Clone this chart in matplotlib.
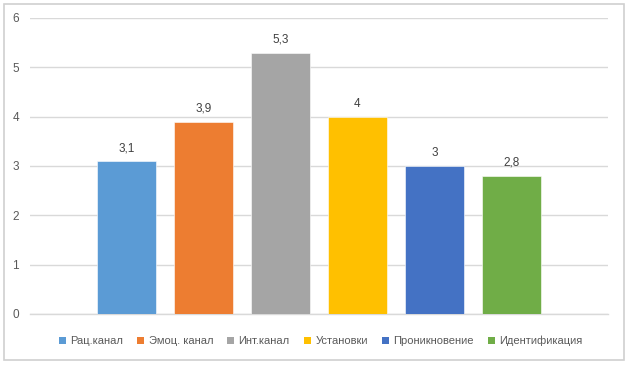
import matplotlib
matplotlib.use("Agg")
import matplotlib.pyplot as plt
from matplotlib.patches import Rectangle, Patch

categories = ["Рац.канал", "Эмоц. канал", "Инт.канал", "Установки", "Проникновение", "Идентификация"]
values = [3.1, 3.9, 5.3, 4, 3, 2.8]
value_labels = ["3,1", "3,9", "5,3", "4", "3", "2,8"]
y_ticks = [0, 1, 2, 3, 4, 5, 6]
colors = ["#5B9BD5", "#ED7D31", "#A5A5A5", "#FFC000", "#4472C4", "#70AD47"]

plt.rcParams['font.family'] = ['Liberation Sans', 'DejaVu Sans']

W, H = 629, 366
fig = plt.figure(figsize=(W / 100, H / 100), dpi=100)
fig.patch.set_facecolor("white")

# outer border
fig.patches.append(Rectangle((4 / W, 1 - 360 / H), 620 / W, 356 / H, transform=fig.transFigure,
                             fill=False, edgecolor="#d0d0d0", linewidth=1.2, zorder=0))

ax = fig.add_axes([30 / W, 1 - 314 / H, 578 / W, 296 / H])
x = list(range(len(values)))
bars = ax.bar(x, values, width=0.77, color=colors, edgecolor="white", linewidth=0.4, zorder=3)
for xi, v, lab in zip(x, values, value_labels):
    ax.annotate(lab, (xi, v), xytext=(0, 5), textcoords="offset points",
                ha="center", va="bottom", fontsize=8.5, color="#404040")

ax.set_xlim(-1.26, 6.26)
ax.set_ylim(0, 6)
ax.set_yticks(y_ticks)
ax.set_yticklabels([str(t) for t in y_ticks], fontsize=8.5, color="#595959")
ax.set_xticks([])
ax.tick_params(axis="y", length=0, pad=8)
ax.grid(axis="y", color="#d9d9d9", linewidth=1, zorder=0)
for s in ["top", "right", "left"]:
    ax.spines[s].set_visible(False)
ax.spines["bottom"].set_color("#d9d9d9")
ax.spines["bottom"].set_linewidth(1)

handles = [Patch(facecolor=c, edgecolor="none") for c in colors]
fig.legend(handles, categories, loc="center", bbox_to_anchor=(0.51, 1 - 341 / H), ncol=6,
           frameon=False, fontsize=8, labelcolor="#595959", handlelength=0.6, handleheight=0.6,
           handletextpad=0.4, columnspacing=1.3)

fig.savefig("out.png", dpi=100)
